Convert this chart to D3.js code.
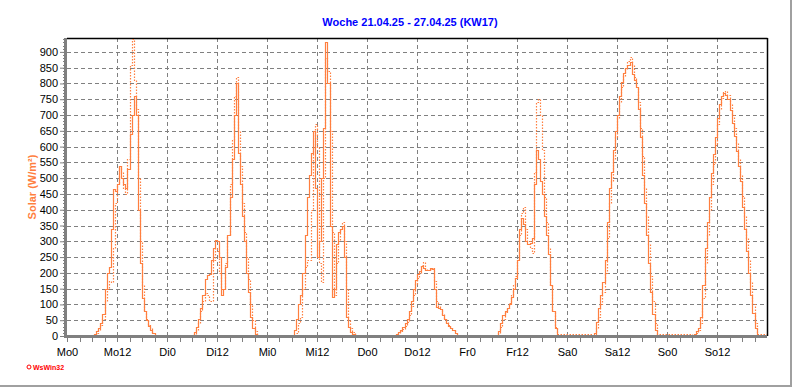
<!DOCTYPE html>
<html>
<head>
<meta charset="utf-8">
<script src="https://cdn.jsdelivr.net/npm/d3@7"></script>
<style>
  body { margin: 0; background: #fff; }
  svg { display: block; font-family: Arial, "Liberation Sans", sans-serif; }
</style>
</head>
<body>
<div id="chart"></div>
<script>
// day labels, x ticks every 12 hours
var days = ["Mo", "Di", "Mi", "Do", "Fr", "Sa", "So"];
var xTickLabels = ["Mo0","Mo12","Di0","Di12","Mi0","Mi12","Do0","Do12","Fr0","Fr12","Sa0","Sa12","So0","So12"];
var yTicks = [0,50,100,150,200,250,300,350,400,450,500,550,600,650,700,750,800,850,900];

// half-hour readings from 6:00 to 21:30 (W/m²), solid line
var solid = [
  [0,5,15,25,40,70,150,200,220,340,465,460,480,540,500,480,470,530,640,700,760,700,400,230,120,80,50,32,20,10,0,0],
  [0,12,30,55,90,130,180,192,196,240,280,304,300,250,130,150,220,320,440,560,700,800,580,480,380,300,200,140,60,25,5,0],
  [0,20,55,100,130,200,320,440,510,580,650,470,250,300,500,660,930,800,350,125,150,290,330,340,350,250,60,30,14,5,0,0],
  [0,0,5,12,20,28,40,55,80,110,150,178,195,205,222,215,208,210,215,212,150,93,90,85,65,55,42,33,25,18,8,0],
  [0,0,0,15,40,65,80,88,100,125,150,185,240,340,375,355,300,292,295,310,480,590,560,490,450,380,320,260,160,80,25,0],
  [0,10,45,90,130,170,240,360,470,520,590,650,700,760,805,833,848,860,868,830,810,790,720,630,510,420,320,230,140,70,20,0],
  [0,5,15,25,60,160,280,360,440,515,575,630,690,735,760,770,765,752,715,675,635,585,540,490,410,340,270,200,130,72,25,0]
];

// dotted line
var dotted = [
  [0,3,10,20,35,55,110,150,175,170,280,420,480,540,520,470,450,560,860,940,810,720,500,300,160,80,55,35,25,10,0,0],
  [0,5,20,40,80,110,135,130,110,110,240,280,270,200,150,150,230,320,480,620,760,820,650,540,420,330,250,180,100,50,15,0],
  [0,0,10,40,60,150,220,240,240,400,600,670,600,230,170,500,880,840,650,330,130,230,300,340,360,300,150,50,25,14,0,0],
  [0,0,0,8,15,22,32,45,65,95,130,165,185,200,225,235,212,210,212,215,175,110,95,85,70,55,45,35,25,18,10,3],
  [0,0,0,8,30,55,75,90,105,130,160,190,240,320,390,410,340,300,280,262,520,740,750,700,590,440,360,280,160,80,30,5],
  [0,3,25,60,100,140,200,310,420,490,560,630,690,740,790,825,845,870,885,860,820,790,740,660,570,470,380,290,190,110,40,5],
  [0,2,8,18,40,120,230,320,400,480,545,605,670,720,755,772,775,765,735,700,660,610,560,510,445,380,310,240,170,100,40,5]
];

var startHour = 6, stepHour = 0.5;

// turn the daily arrays into one week long series of {t: hours, v: value}
function weekSeries(arr) {
  var pts = [{t: 0, v: 0}];
  arr.forEach(function(dayVals, d) {
    dayVals.forEach(function(v, i) {
      pts.push({t: d * 24 + startHour + i * stepHour, v: v});
    });
  });
  pts.push({t: 168, v: 0});
  return pts;
}

var W = 792, H = 387;
var margin = {top: 38, right: 25, bottom: 51, left: 67};
var width = W - margin.left - margin.right,
    height = H - margin.top - margin.bottom;

var svg = d3.select("#chart").append("svg")
    .attr("width", W).attr("height", H);

// window frame (right / bottom grey)
svg.append("line").attr("x1", W - 1).attr("x2", W - 1).attr("y1", 0).attr("y2", H)
  .attr("stroke", "#a0a0a0").attr("stroke-width", 2);
svg.append("line").attr("x1", 0).attr("x2", W).attr("y1", H - 1).attr("y2", H - 1)
  .attr("stroke", "#a0a0a0").attr("stroke-width", 2);

var g = svg.append("g").attr("transform", "translate(" + margin.left + "," + margin.top + ")");

var x = d3.scaleLinear().domain([0, 168]).range([0, width]);
var y = d3.scaleLinear().domain([0, 944]).range([height, 0]);

// grid
g.append("g").selectAll("line.h")
  .data(yTicks.filter(function(d) { return d > 0; }))
  .enter().append("line")
    .attr("x1", 0).attr("x2", width)
    .attr("y1", function(d) { return Math.round(y(d)) + 0.5; })
    .attr("y2", function(d) { return Math.round(y(d)) + 0.5; })
    .attr("stroke", "#808080").attr("stroke-dasharray", "4,3");
g.append("g").selectAll("line.v")
  .data(d3.range(12, 168, 12))
  .enter().append("line")
    .attr("x1", function(d) { return Math.round(x(d)) + 0.5; })
    .attr("x2", function(d) { return Math.round(x(d)) + 0.5; })
    .attr("y1", 0).attr("y2", height)
    .attr("stroke", "#808080").attr("stroke-dasharray", "4,3");

// frame top / right
g.append("line").attr("x1", 0).attr("x2", width + 0.5).attr("y1", 0.5).attr("y2", 0.5)
  .attr("stroke", "#000").attr("stroke-width", 1.5);
g.append("line").attr("x1", width + 0.5).attr("x2", width + 0.5).attr("y1", 0).attr("y2", height)
  .attr("stroke", "#000").attr("stroke-width", 1.5);

// lines
g.append("clipPath").attr("id", "clip").append("rect")
  .attr("x", 0).attr("y", 0).attr("width", width).attr("height", height);

var line = d3.line()
  .x(function(d) { return Math.round(x(d.t)) + 0.5; })
  .y(function(d) { return Math.round(y(d.v)) + 0.5; })
  .curve(d3.curveStepAfter);

g.append("path").datum(weekSeries(dotted))
  .attr("clip-path", "url(#clip)")
  .attr("fill", "none").attr("stroke", "#ff7f3f").attr("stroke-width", 1.2)
  .attr("stroke-dasharray", "1.5,1.5")
  .attr("d", line);
g.append("path").datum(weekSeries(solid))
  .attr("clip-path", "url(#clip)")
  .attr("fill", "none").attr("stroke", "#ff7f3f").attr("stroke-width", 1.2)
  .attr("d", line);

// Y axis
var yAxis = g.append("g").attr("transform", "translate(-1,0)")
  .call(d3.axisLeft(y).tickValues(yTicks).tickSize(6).tickPadding(2));
yAxis.select(".domain").remove();
yAxis.selectAll(".tick line").attr("stroke", "#808080");
yAxis.selectAll("text").style("font-size", "11px").attr("fill", "#000");
// minor ticks every 10
g.append("g").selectAll("line")
  .data(d3.range(0, 941, 10))
  .enter().append("line")
    .attr("x1", -4).attr("x2", -1)
    .attr("y1", function(d) { return Math.round(y(d)) + 0.5; })
    .attr("y2", function(d) { return Math.round(y(d)) + 0.5; })
    .attr("stroke", "#808080");
g.append("line").attr("x1", -1.5).attr("x2", -1.5).attr("y1", 0).attr("y2", height + 2)
  .attr("stroke", "#808080").attr("stroke-width", 3);

// X axis
var xAxis = g.append("g").attr("transform", "translate(0," + (height + 1) + ")")
  .call(d3.axisBottom(x).tickValues(d3.range(0, 168, 12))
    .tickFormat(function(d, i) { return xTickLabels[i]; })
    .tickSize(5).tickPadding(6));
xAxis.select(".domain").remove();
xAxis.selectAll(".tick line").attr("stroke", "#808080");
xAxis.selectAll("text").style("font-size", "11px").attr("fill", "#000");
g.append("g").selectAll("line")
  .data(d3.range(3, 168, 3).filter(function(d) { return d % 12 !== 0; }))
  .enter().append("line")
    .attr("x1", function(d) { return Math.round(x(d)) + 0.5; })
    .attr("x2", function(d) { return Math.round(x(d)) + 0.5; })
    .attr("y1", height + 1).attr("y2", height + 6)
    .attr("stroke", "#808080");
g.append("line").attr("x1", -3).attr("x2", width).attr("y1", height + 0.5).attr("y2", height + 0.5)
  .attr("stroke", "#808080").attr("stroke-width", 3);

// title
svg.append("text").attr("x", 410).attr("y", 26).attr("text-anchor", "middle")
  .style("font-size", "11px").style("font-weight", "bold").attr("fill", "#0000ff")
  .text("Woche 21.04.25 - 27.04.25 (KW17)");

// y label
svg.append("text").attr("transform", "translate(36,187) rotate(-90)")
  .attr("text-anchor", "middle")
  .style("font-size", "11px").style("font-weight", "bold").attr("fill", "#ff7f3f")
  .text("Solar  (W/m²)");

// WsWin32 mark
svg.append("circle").attr("cx", 29).attr("cy", 367).attr("r", 2)
  .attr("fill", "none").attr("stroke", "#ff0000").attr("stroke-width", 1);
svg.append("text").attr("x", 33).attr("y", 370)
  .style("font-size", "7px").style("font-weight", "bold").attr("fill", "#ff0000")
  .text("WsWin32");
</script>
</body>
</html>
